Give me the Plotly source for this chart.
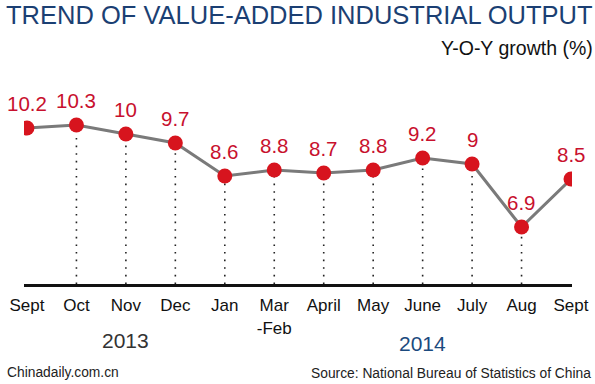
import plotly.graph_objects as go

months = ["Sept", "Oct", "Nov", "Dec", "Jan", "Mar<br>-Feb", "April", "May", "June", "July", "Aug", "Sept"]
values = [10.2, 10.3, 10.0, 9.7, 8.6, 8.8, 8.7, 8.8, 9.2, 9.0, 6.9, 8.5]
value_labels = ["10.2", "10.3", "10", "9.7", "8.6", "8.8", "8.7", "8.8", "9.2", "9", "6.9", "8.5"]
years = ["2013", "2014"]
year_pos = [2, 8]

x = list(range(len(months)))
BASE = 5
PH = 284.0  # plot height in px
PW = 548.0  # plot width in px
ML = 24.0
FONT = "Arial, Liberation Sans, sans-serif"


def py(pixel_y):
    return (PH - pixel_y) / PH


def px(pixel_x):
    return (pixel_x - ML) / PW


# dotted drop lines (not for first and last points)
dx, dy = [], []
for i in x[1:-1]:
    dx += [i, i, None]
    dy += [BASE, values[i], None]

fig = go.Figure()
fig.add_trace(go.Scatter(x=dx, y=dy, mode="lines",
                         line=dict(color="#222222", width=1.6, dash="1.6px,6px"),
                         hoverinfo="skip", showlegend=False))
fig.add_trace(go.Scatter(x=x, y=values, mode="lines+markers",
                         line=dict(color="#7a7a7a", width=3),
                         marker=dict(color="#d7141e", size=15),
                         showlegend=False))

for i, (v, t) in enumerate(zip(values, value_labels)):
    fig.add_annotation(x=i, y=v, text=t, showarrow=False, yshift=25,
                       font=dict(family=FONT, size=20.5, color="#c8102e"))

fig.add_annotation(x=year_pos[0], y=py(340), yref="paper", text=years[0], showarrow=False,
                   yanchor="middle", font=dict(family=FONT, size=21, color="#333333"))
fig.add_annotation(x=year_pos[1], y=py(343), yref="paper", text=years[1], showarrow=False,
                   yanchor="middle", font=dict(family=FONT, size=21, color="#1b4a7e"))

fig.add_annotation(text="TREND OF VALUE-ADDED INDUSTRIAL OUTPUT", xref="paper", yref="paper",
                   x=px(4), y=py(15), xanchor="left", yanchor="middle", showarrow=False,
                   font=dict(family=FONT, size=25.5, color="#1b3f73"))
fig.add_annotation(text="Y-O-Y growth (%)", xref="paper", yref="paper",
                   x=px(595), y=py(48), xanchor="right", yanchor="middle", showarrow=False,
                   font=dict(family=FONT, size=19.5, color="#111111"))
fig.add_annotation(text="Chinadaily.com.cn", xref="paper", yref="paper",
                   x=px(5), y=py(372), xanchor="left", yanchor="middle", showarrow=False,
                   font=dict(family=FONT, size=13.8, color="#222222"))
fig.add_annotation(text="Source: National Bureau of Statistics of China", xref="paper", yref="paper",
                   x=px(593), y=py(373), xanchor="right", yanchor="middle", showarrow=False,
                   font=dict(family=FONT, size=13.8, color="#222222"))

fig.update_layout(
    width=595, height=384,
    margin=dict(l=24, r=23, t=0, b=100),
    paper_bgcolor="white", plot_bgcolor="white",
    xaxis=dict(range=[-0.06, 11.02], tickmode="array", tickvals=x, ticktext=months,
               showgrid=False, zeroline=False, showline=True, linecolor="#111111", linewidth=3,
               ticks="outside", ticklen=4, tickcolor="rgba(0,0,0,0)",
               tickfont=dict(family=FONT, size=17, color="#111111"),
               fixedrange=True),
    yaxis=dict(range=[BASE, BASE + PH / 30.0], visible=False, fixedrange=True),
)

fig.write_html("out.html", config={"displayModeBar": False},
               post_script="document.body.style.margin='0';")
